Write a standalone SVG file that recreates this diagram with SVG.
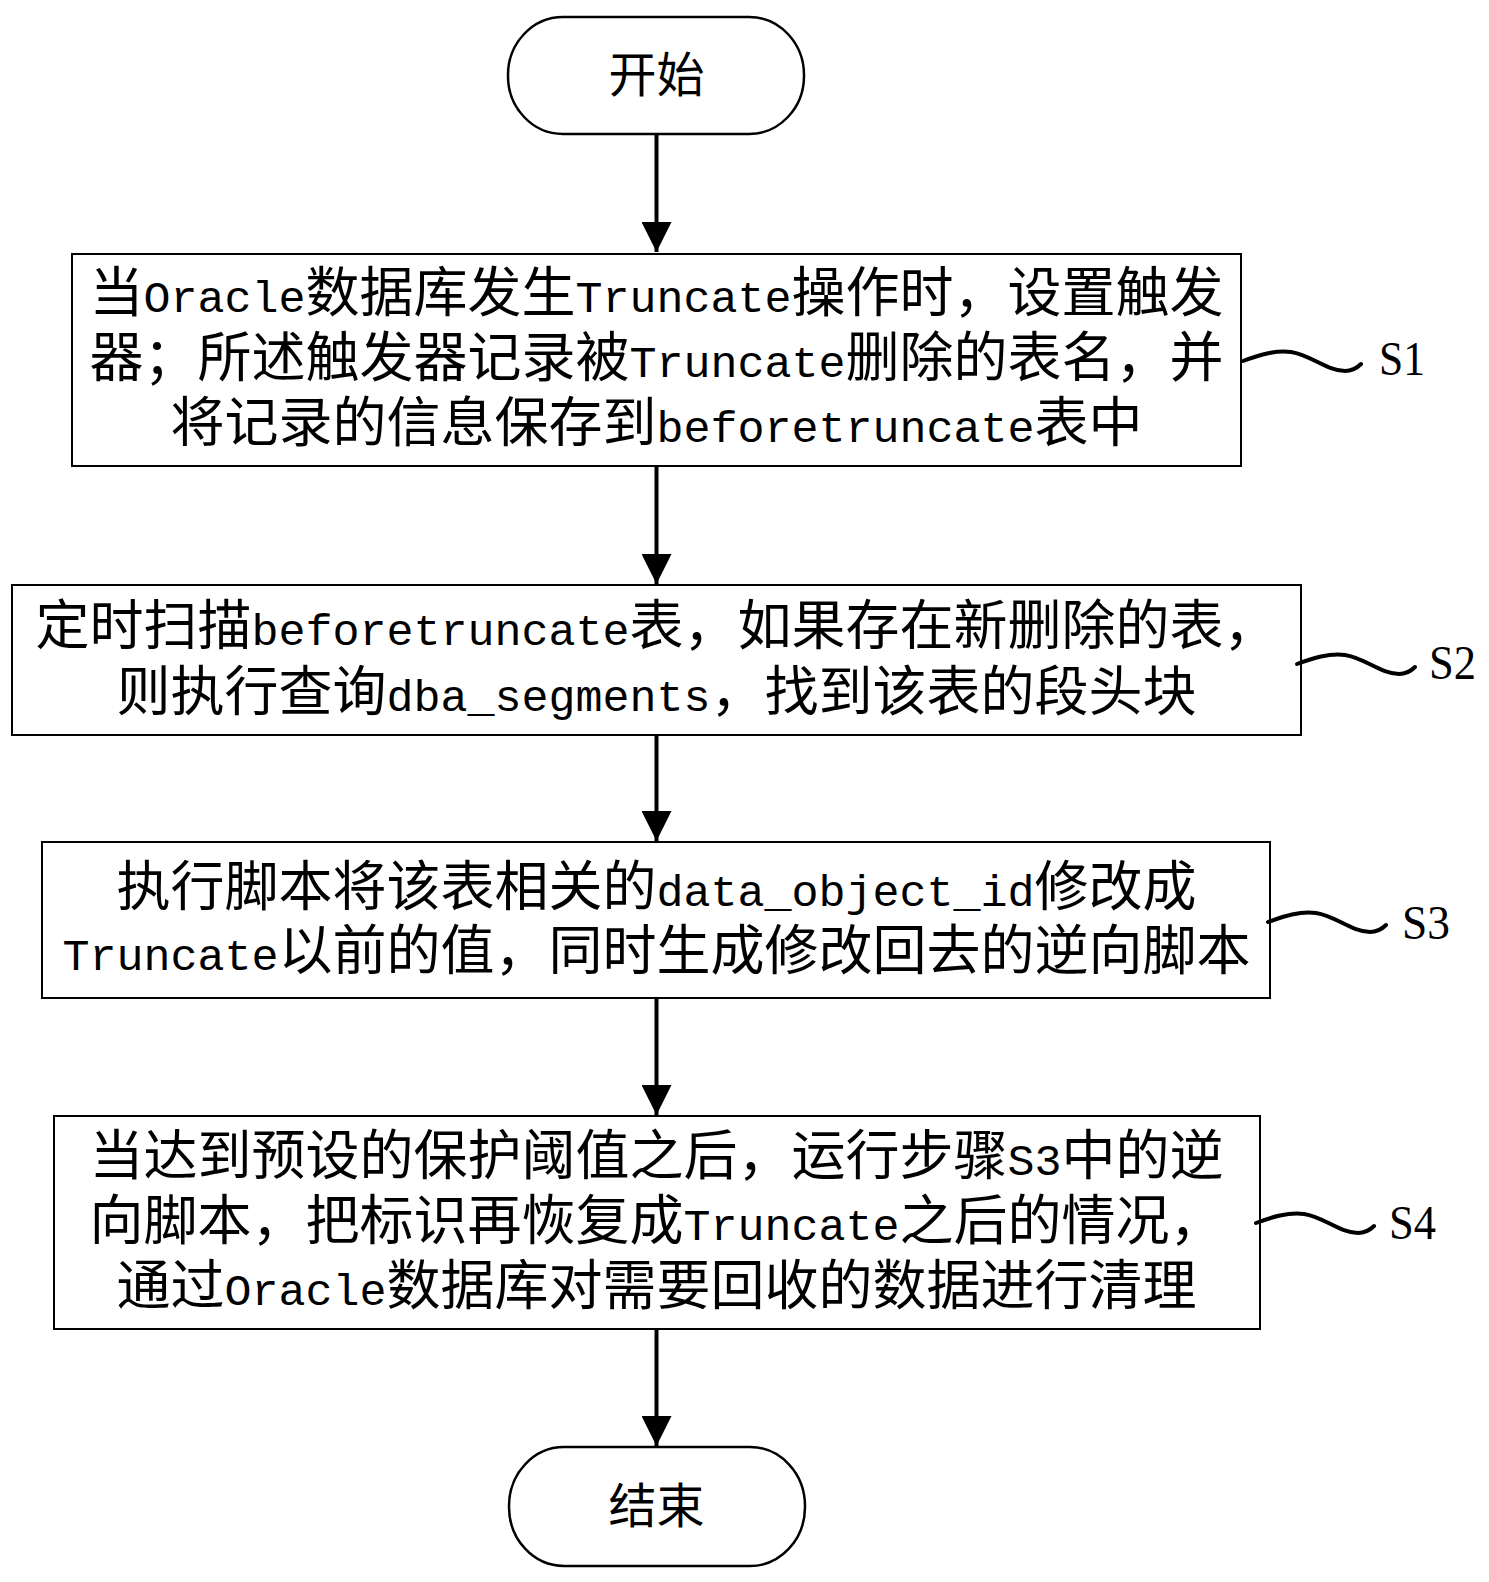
<svg xmlns="http://www.w3.org/2000/svg" width="1489" height="1582" viewBox="0 0 1489 1582">
<defs>
<style>
.box{fill:#fff;stroke:#000;stroke-width:2}
.term{fill:#fff;stroke:#000;stroke-width:2.5}
.cn{font-family:"Liberation Mono","Noto Sans CJK SC",sans-serif;font-size:54px;fill:#000}
.lat{font-family:"Liberation Mono","DejaVu Sans Mono",monospace;font-size:45px;fill:#000}
.tcn{font-family:"Liberation Mono","Noto Sans CJK SC",sans-serif;font-size:48px;fill:#000}
.conn{stroke:#000;stroke-width:4;fill:none}
.tilde{fill:none;stroke:#000;stroke-width:4;stroke-linecap:round;stroke-linejoin:round}
.lbl{font-family:"Liberation Serif","Times New Roman",serif;font-size:48px;fill:#000}
</style>
<marker id="ah" markerUnits="userSpaceOnUse" markerWidth="30" markerHeight="30" refX="30" refY="15" orient="auto" viewBox="0 0 30 30">
<path d="M0,0 L30,15 L0,30 Z" fill="#000"/>
</marker>
</defs>
<rect width="1489" height="1582" fill="#fff"/>

<g id="connectors">
<path class="conn" d="M656.5,134 V252" marker-end="url(#ah)"/>
<path class="conn" d="M656.5,466 V584" marker-end="url(#ah)"/>
<path class="conn" d="M656.5,735 V841" marker-end="url(#ah)"/>
<path class="conn" d="M656.5,998 V1115" marker-end="url(#ah)"/>
<path class="conn" d="M656.5,1329 V1446" marker-end="url(#ah)"/>
</g>

<g id="start">
<rect class="term" x="508" y="17" width="296" height="117" rx="55" ry="58"/>
<text class="tcn" x="656.5" y="92" text-anchor="middle">开始</text>
</g>

<g id="S1">
<rect class="box" x="72" y="254" width="1169" height="212"/>
<text class="cn" y="312"><tspan class="cn" x="89.5">当</tspan><tspan class="lat" x="143.5" textLength="162" lengthAdjust="spacingAndGlyphs">Oracle</tspan><tspan class="cn" x="305.5">数据库发生</tspan><tspan class="lat" x="575.5" textLength="216" lengthAdjust="spacingAndGlyphs">Truncate</tspan><tspan class="cn" x="791.5">操作时，设置触发</tspan></text>
<text class="cn" y="377"><tspan class="cn" x="89.5">器；所述触发器记录被</tspan><tspan class="lat" x="629.5" textLength="216" lengthAdjust="spacingAndGlyphs">Truncate</tspan><tspan class="cn" x="845.5">删除的表名，并</tspan></text>
<text class="cn" y="442"><tspan class="cn" x="170.5">将记录的信息保存到</tspan><tspan class="lat" x="656.5" textLength="378" lengthAdjust="spacingAndGlyphs">beforetruncate</tspan><tspan class="cn" x="1034.5">表中</tspan></text>
<path class="tilde" d="M1243,361 c16,-6 32,-11 48,-9 c20,3 36,19 54,19 c8,0 13,-4 16,-7"/>
<text class="lbl" x="1379" y="375" textLength="46" lengthAdjust="spacingAndGlyphs">S1</text>
</g>

<g id="S2">
<rect class="box" x="12" y="585" width="1289" height="150"/>
<text class="cn" y="645"><tspan class="cn" x="35.5">定时扫描</tspan><tspan class="lat" x="251.5" textLength="378" lengthAdjust="spacingAndGlyphs">beforetruncate</tspan><tspan class="cn" x="629.5">表，如果存在新删除的表，</tspan></text>
<text class="cn" y="710.5"><tspan class="cn" x="116.5">则执行查询</tspan><tspan class="lat" x="386.5" textLength="324" lengthAdjust="spacingAndGlyphs">dba_segments</tspan><tspan class="cn" x="710.5">，找到该表的段头块</tspan></text>
<path class="tilde" d="M1297,664 c16,-6 32,-11 48,-9 c20,3 36,19 54,19 c8,0 13,-4 16,-7"/>
<text class="lbl" x="1429" y="679" textLength="47" lengthAdjust="spacingAndGlyphs">S2</text>
</g>

<g id="S3">
<rect class="box" x="42" y="842" width="1228" height="156"/>
<text class="cn" y="905.5"><tspan class="cn" x="116.5">执行脚本将该表相关的</tspan><tspan class="lat" x="656.5" textLength="378" lengthAdjust="spacingAndGlyphs">data_object_id</tspan><tspan class="cn" x="1034.5">修改成</tspan></text>
<text class="cn" y="970"><tspan class="lat" x="62.5" textLength="216" lengthAdjust="spacingAndGlyphs">Truncate</tspan><tspan class="cn" x="278.5">以前的值，同时生成修改回去的逆向脚本</tspan></text>
<path class="tilde" d="M1268,922 c16,-6 32,-11 48,-9 c20,3 36,19 54,19 c8,0 13,-4 16,-7"/>
<text class="lbl" x="1402" y="939" textLength="48" lengthAdjust="spacingAndGlyphs">S3</text>
</g>

<g id="S4">
<rect class="box" x="54" y="1116" width="1206" height="213"/>
<text class="cn" y="1175"><tspan class="cn" x="89.5">当达到预设的保护阈值之后，运行步骤</tspan><tspan class="lat" x="1007.5" textLength="54" lengthAdjust="spacingAndGlyphs">S3</tspan><tspan class="cn" x="1061.5">中的逆</tspan></text>
<text class="cn" y="1240"><tspan class="cn" x="89.5">向脚本，把标识再恢复成</tspan><tspan class="lat" x="683.5" textLength="216" lengthAdjust="spacingAndGlyphs">Truncate</tspan><tspan class="cn" x="899.5">之后的情况，</tspan></text>
<text class="cn" y="1305"><tspan class="cn" x="116.5">通过</tspan><tspan class="lat" x="224.5" textLength="162" lengthAdjust="spacingAndGlyphs">Oracle</tspan><tspan class="cn" x="386.5">数据库对需要回收的数据进行清理</tspan></text>
<path class="tilde" d="M1256,1223 c16,-6 32,-11 48,-9 c20,3 36,19 54,19 c8,0 13,-4 16,-7"/>
<text class="lbl" x="1389" y="1239" textLength="47" lengthAdjust="spacingAndGlyphs">S4</text>
</g>

<g id="end">
<rect class="term" x="509" y="1447" width="296" height="119" rx="55" ry="59"/>
<text class="tcn" x="656.5" y="1523" text-anchor="middle">结束</text>
</g>
</svg>
